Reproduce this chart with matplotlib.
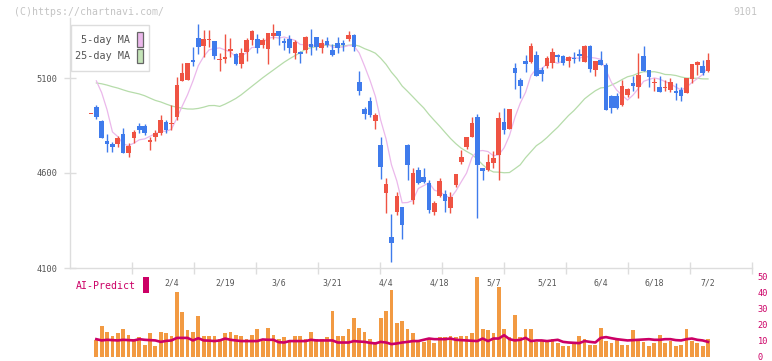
import numpy as np
import pandas as pd
import matplotlib
matplotlib.use("Agg")
import matplotlib.pyplot as plt
from matplotlib.patches import Rectangle
from matplotlib.transforms import blended_transform_factory

# ---------------- data ----------------
opens = [4910, 4946, 4875, 4768, 4751, 4754, 4805, 4704, 4786, 4847,
         4847, 4765, 4788, 4809, 4867, 4856, 4896, 5086, 5089, 5195,
         5312, 5268, 5302, 5295, 5196, 5202, 5244, 5226, 5174, 5237,
         5300, 5305, 5274, 5253, 5321, 5347, 5295, 5305, 5233, 5237,
         5247, 5279, 5317, 5258, 5295, 5247, 5286, 5286, 5305, 5326,
         5079, 4937, 4979, 4875, 4747, 4496, 4262, 4396, 4419, 4747,
         4458, 4616, 4577, 4547, 4396, 4479, 4491, 4417, 4538, 4659,
         4738, 4788, 4893, 4628, 4617, 4651, 4695, 4867, 4830, 5151,
         5088, 5189, 5186, 5221, 5142, 5165, 5181, 5221, 5216, 5191,
         5205, 5225, 5186, 5268, 5142, 5195, 5168, 5005, 5005, 4958,
         5012, 5075, 5054, 5216, 5142, 5072, 5054, 5047, 5037, 5032,
         5037, 5023, 5093, 5168, 5163, 5137]
highs = [4910, 4958, 4879, 4805, 4762, 4795, 4835, 4756, 4826, 4865,
         4858, 4791, 4826, 4905, 4879, 4958, 5104, 5177, 5180, 5262,
         5384, 5353, 5353, 5295, 5230, 5332, 5309, 5230, 5256, 5309,
         5353, 5332, 5309, 5335, 5384, 5347, 5309, 5326, 5300, 5242,
         5323, 5358, 5317, 5305, 5317, 5279, 5317, 5300, 5347, 5332,
         5137, 4946, 4998, 4914, 4791, 4572, 4384, 4498, 4419, 4753,
         4628, 4633, 4628, 4563, 4453, 4575, 4511, 4498, 4595, 4721,
         4791, 4893, 4911, 4628, 4700, 4717, 4921, 4941, 4935, 5177,
         5098, 5221, 5284, 5242, 5159, 5216, 5256, 5226, 5221, 5216,
         5238, 5251, 5274, 5274, 5191, 5244, 5177, 5012, 5020, 5089,
         5049, 5110, 5233, 5268, 5142, 5098, 5110, 5089, 5098, 5072,
         5054, 5102, 5174, 5191, 5195, 5233]
lows = [4910, 4883, 4784, 4709, 4712, 4735, 4704, 4683, 4756, 4809,
        4800, 4721, 4770, 4800, 4809, 4826, 4879, 5086, 5089, 5163,
        5225, 5212, 5265, 5198, 5138, 5181, 5212, 5168, 5154, 5191,
        5274, 5230, 5259, 5174, 5304, 5274, 5247, 5230, 5200, 5181,
        5230, 5221, 5247, 5230, 5265, 5216, 5230, 5244, 5296, 5244,
        5011, 4883, 4893, 4833, 4570, 4391, 4130, 4377, 4254, 4563,
        4437, 4542, 4549, 4391, 4379, 4472, 4395, 4391, 4525, 4647,
        4726, 4788, 4365, 4563, 4612, 4625, 4563, 4805, 4830, 5044,
        4996, 5133, 5177, 5112, 5086, 5151, 5154, 5186, 5168, 5156,
        5181, 5191, 5186, 5133, 5112, 5168, 4932, 4914, 4935, 4953,
        5002, 5033, 4993, 5138, 5054, 5033, 5028, 5033, 5028, 4984,
        4981, 5023, 5072, 5116, 5116, 5133]
closes = [4910, 4896, 4786, 4751, 4738, 4786, 4704, 4742, 4816, 4826,
          4809, 4774, 4811, 4879, 4826, 4862, 5063, 5128, 5180, 5186,
          5265, 5304, 5305, 5217, 5200, 5211, 5253, 5174, 5230, 5300,
          5347, 5258, 5300, 5335, 5335, 5323, 5286, 5258, 5289, 5226,
          5317, 5265, 5265, 5286, 5274, 5221, 5259, 5274, 5326, 5265,
          5033, 4912, 4905, 4905, 4633, 4542, 4233, 4479, 4328, 4641,
          4598, 4546, 4554, 4405, 4444, 4558, 4454, 4474, 4595, 4684,
          4791, 4863, 4642, 4612, 4656, 4681, 4888, 4826, 4935, 5128,
          5060, 5174, 5268, 5112, 5123, 5204, 5235, 5212, 5177, 5209,
          5202, 5217, 5268, 5147, 5191, 5168, 4932, 4944, 4944, 5058,
          5041, 5060, 5116, 5138, 5107, 5081, 5028, 5051, 5081, 5019,
          5005, 5102, 5174, 5183, 5128, 5195]
# closes before the first visible day (seed for the moving averages)
prior_closes = [4950, 4900, 4920, 4950, 4966, 4940, 4960, 4975, 4988, 5040,
                5090, 5114, 5080, 5100, 5112, 5230, 5260, 5281, 5200, 5180,
                5139, 5100, 5200, 5319]
volumes = [np.nan, 10.3, 19.1, 15.1, 13.2, 14.5, 17.0, 13.6, 11.3, 12.0,
           7.5, 14.5, 6.9, 15.1, 14.5, 13.2, 40.5, 27.9, 16.6, 15.1,
           25.2, 12.6, 12.6, 12.6, 10.7, 14.5, 15.1, 13.8, 13.2, 11.3,
           13.8, 17.0, 10.0, 18.2, 13.8, 11.3, 12.0, 10.0, 12.6, 12.6,
           11.3, 15.1, 11.3, 11.3, 12.0, 28.5, 12.6, 12.6, 17.6, 24.5,
           18.2, 15.1, 11.3, 9.4, 24.5, 28.5, 41.7, 20.8, 22.6, 17.6,
           14.5, 9.4, 9.4, 11.3, 8.2, 12.0, 12.0, 12.6, 12.0, 13.2,
           12.6, 14.5, 49.7, 17.0, 16.4, 14.5, 43.4, 17.6, 12.0, 25.8,
           12.0, 17.0, 17.6, 9.4, 10.0, 9.4, 10.7, 8.2, 6.3, 6.3,
           8.2, 13.2, 10.7, 7.5, 7.5, 18.2, 10.0, 8.2, 10.7, 7.5,
           7.5, 16.4, 10.0, 9.4, 6.9, 8.2, 13.8, 8.8, 10.0, 6.9,
           7.5, 17.6, 10.0, 8.8, 6.3, 10.7]
ai_predict = [np.nan, 10.9, 10.1, 10.5, 10.3, 10.1, 10.5, 10.3, 10.1, 10.9,
              10.5, 10.3, 10.1, 9.2, 9.8, 10.1, 11.7, 11.7, 11.7, 10.1,
              11.5, 10.1, 10.0, 9.7, 10.1, 11.3, 10.5, 10.1, 9.7, 9.7,
              9.7, 9.7, 10.7, 10.5, 10.5, 9.0, 8.8, 9.7, 9.7, 9.7,
              9.7, 10.5, 10.1, 10.1, 10.1, 10.1, 8.8, 8.8, 8.8, 9.7,
              9.4, 9.2, 8.6, 8.2, 9.2, 8.8, 7.8, 8.2, 8.8, 9.2,
              9.7, 9.7, 10.5, 11.3, 10.9, 10.9, 10.9, 11.3, 10.5, 10.3,
              10.1, 9.9, 9.7, 11.3, 9.7, 11.3, 11.3, 13.4, 10.9, 10.1,
              10.5, 11.7, 9.7, 10.1, 10.1, 9.7, 10.1, 10.5, 9.2, 8.8,
              8.6, 8.4, 9.7, 9.2, 8.8, 11.7, 12.2, 11.5, 10.9, 10.5,
              10.1, 10.3, 10.5, 10.7, 10.9, 10.5, 10.5, 10.9, 10.9, 10.3,
              10.1, 10.9, 11.3, 10.5, 10.1, 9.2]
date_labels = ["2/4", "2/19", "3/6", "3/21", "4/4", "4/18", "5/7", "5/21", "6/4", "6/18", "7/2"]
date_label_idx = [15, 25, 35, 45, 55, 65, 75, 85, 95, 105, 115]
price_ticks = [4100, 4600, 5100]
vol_ticks = [0, 10, 20, 30, 40, 50]
ticker = "9101"
copyright_text = "(C)https://chartnavi.com/"

# ---------------- style ----------------
RED = "#ef5343"
BLUE = "#3f7bec"
PINK = "#ebb8eb"
GREEN = "#b6dcaa"
ORANGE = "#f29a42"
MAGENTA = "#cc0066"
GRID = "#dddddd"
TXT = "#555555"
LIGHT = "#c4c4c4"
MONO = "DejaVu Sans Mono"

W, H = 772, 361
fig = plt.figure(figsize=(W / 100, H / 100), dpi=100)


def rect(l, t, r, b):
    return [l / W, 1 - b / H, (r - l) / W, (b - t) / H]


n = len(closes)
x = np.arange(n)
o = np.array(opens, float)
c = np.array(closes, float)
hi = np.array(highs, float)
lo = np.array(lows, float)

XMIN, XMAX = -3.91, 123.2

# ---- price panel ----
ax = fig.add_axes(rect(70, 18, 752, 268))
ax.set_xlim(XMIN, XMAX)
ax.set_ylim(4100, 5100 + 60 * 500 / 95)

allc = pd.Series(prior_closes + closes, dtype=float)
ma5 = allc.rolling(5).mean().values[len(prior_closes):]
ma25 = allc.rolling(25).mean().values[len(prior_closes):]
ax.plot(x[1:], ma25[1:], color=GREEN, lw=0.9, zorder=1)
ax.plot(x[1:], ma5[1:], color=PINK, lw=0.9, zorder=1)

cols = np.where(c >= o, RED, BLUE)
ax.vlines(x, lo, hi, colors=cols, linewidth=1.0, zorder=2)
body_bottom = np.minimum(o, c)
body_h = np.maximum(np.abs(c - o), 5)
ax.bar(x, body_h, bottom=body_bottom, width=0.86, color=cols, linewidth=0, zorder=3)

for s in ["top", "right"]:
    ax.spines[s].set_visible(False)
for s in ["left", "bottom"]:
    ax.spines[s].set_color(GRID)
    ax.spines[s].set_linewidth(1)
ax.set_yticks(price_ticks)
ax.set_yticklabels([str(t) for t in price_ticks], fontsize=6.2, color=TXT, family=MONO)
ax.set_xticks([XMIN + (XMAX - XMIN) * k / 11 for k in range(1, 12)])
ax.set_xticklabels([])
ax.tick_params(axis="both", direction="inout", length=8, width=1, color=GRID, pad=5)
ax.patch.set_alpha(0)

# ---- volume panel ----
vax = fig.add_axes(rect(70, 273.5, 752, 356.5))
vax.set_xlim(XMIN, XMAX)
vax.set_ylim(0, 83 / 1.59)
vax.bar(x, volumes, width=0.7, color=ORANGE, linewidth=0, zorder=1)
vax.plot(x, ai_predict, color=MAGENTA, lw=1.9, zorder=2)
for s in vax.spines.values():
    s.set_visible(False)
vax.set_xticks([])
vax.yaxis.tick_right()
vax.set_yticks(vol_ticks)
vax.set_yticklabels([str(t) for t in vol_ticks], fontsize=6.2, color=MAGENTA, family=MONO)
vax.tick_params(axis="y", length=0, pad=4)
vax.patch.set_alpha(0)

# date labels between the panels
trans = blended_transform_factory(vax.transData, fig.transFigure)
for idx, lab in zip(date_label_idx, date_labels):
    vax.text(idx, 1 - 282.5 / H, lab, transform=trans, ha="center", va="center",
             fontsize=5.9, color=TXT, family=MONO)

# ---- overlay (legend, captions) ----
ov = fig.add_axes([0, 0, 1, 1], zorder=10)
ov.set_xlim(0, W)
ov.set_ylim(H, 0)
ov.axis("off")
ov.patch.set_alpha(0)
ov.add_patch(Rectangle((70.5, 24.5), 78, 46.5, facecolor="white", edgecolor=GRID, lw=1))
ov.text(130, 40, "5-day MA", ha="right", va="center", fontsize=7.3, color=TXT, family=MONO)
ov.text(130, 56, "25-day MA", ha="right", va="center", fontsize=7.3, color=TXT, family=MONO)
ov.add_patch(Rectangle((136.5, 31.5), 6, 15, facecolor=PINK, edgecolor="#666666", lw=0.9))
ov.add_patch(Rectangle((136.5, 48.5), 6, 14, facecolor="#c4e4b8", edgecolor="#666666", lw=0.9))
ov.text(14, 12, copyright_text, ha="left", va="center", fontsize=7.1, color=LIGHT, family=MONO)
ov.text(757, 12, ticker, ha="right", va="center", fontsize=7.1, color=LIGHT, family=MONO)
ov.text(76, 286, "AI-Predict", ha="left", va="center", fontsize=7.1, color=MAGENTA, family=MONO)
ov.add_patch(Rectangle((142.5, 277), 6.3, 16, facecolor=MAGENTA, edgecolor="none"))

fig.savefig("out.png", dpi=100)
